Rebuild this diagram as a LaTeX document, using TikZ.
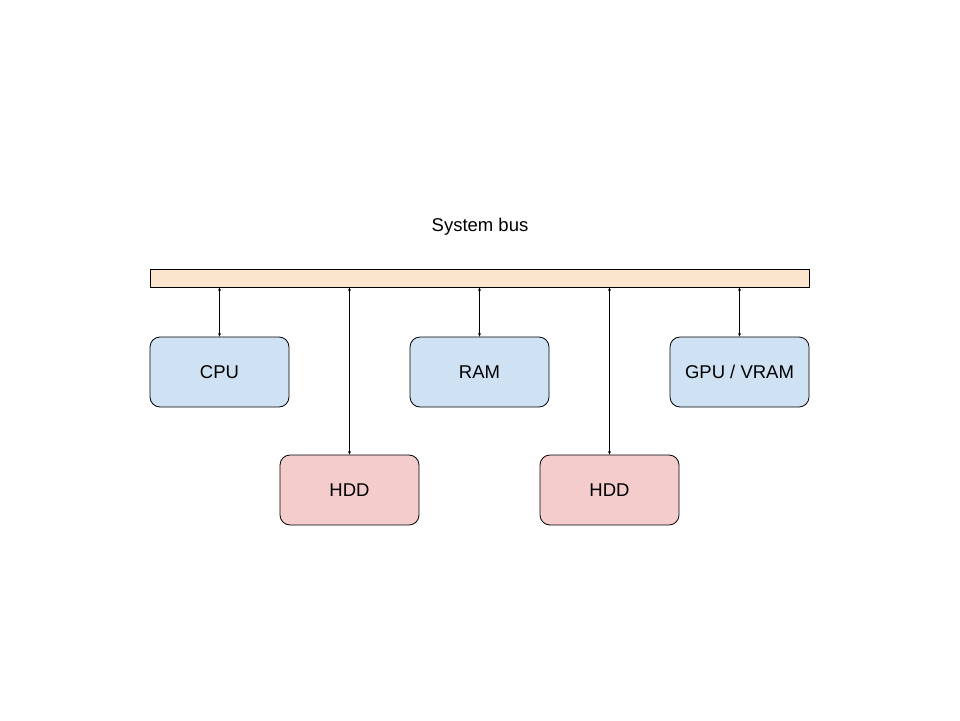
\documentclass[tikz,border=0pt]{standalone}
\usepackage{fontspec}
\setmainfont{Liberation Sans}
\usetikzlibrary{arrows.meta}
\definecolor{buscol}{HTML}{FCE5CD}
\definecolor{bluecol}{HTML}{CFE2F3}
\definecolor{redcol}{HTML}{F4CCCC}
\begin{document}
\begin{tikzpicture}[x=1pt,y=-1pt,
  unit/.style={draw=black, line width=0.8pt, rounded corners=10pt, minimum width=139pt, minimum height=70pt, inner sep=0pt, font=\fontsize{18.5}{20}\selectfont},
  bluebox/.style={unit, fill=bluecol},
  redbox/.style={unit, fill=redcol},
  link/.style={line width=0.8pt, {Stealth[length=3.5pt,width=3pt]}-{Stealth[length=3.5pt,width=3pt]}}]
\useasboundingbox (0,0) rectangle (960,720);
\node[draw=black, line width=0.8pt, fill=buscol, minimum width=659pt, minimum height=18pt, inner sep=0pt] (bus) at (479.5,278) {};
\node[font=\fontsize{18.5}{20}\selectfont] (title) at (480,227) {System bus};
\node[bluebox] (cpu) at (219.5,372) {CPU};
\node[bluebox] (ram) at (479.5,372) {RAM};
\node[bluebox] (gpu) at (739.5,372) {GPU / VRAM};
\node[redbox] (hdda) at (349.5,490) {HDD};
\node[redbox] (hddb) at (609.5,490) {HDD};
\draw[link] (bus.south -| cpu.north) -- (cpu.north);
\draw[link] (bus.south -| ram.north) -- (ram.north);
\draw[link] (bus.south -| gpu.north) -- (gpu.north);
\draw[link] (bus.south -| hdda.north) -- (hdda.north);
\draw[link] (bus.south -| hddb.north) -- (hddb.north);
\end{tikzpicture}
\end{document}
